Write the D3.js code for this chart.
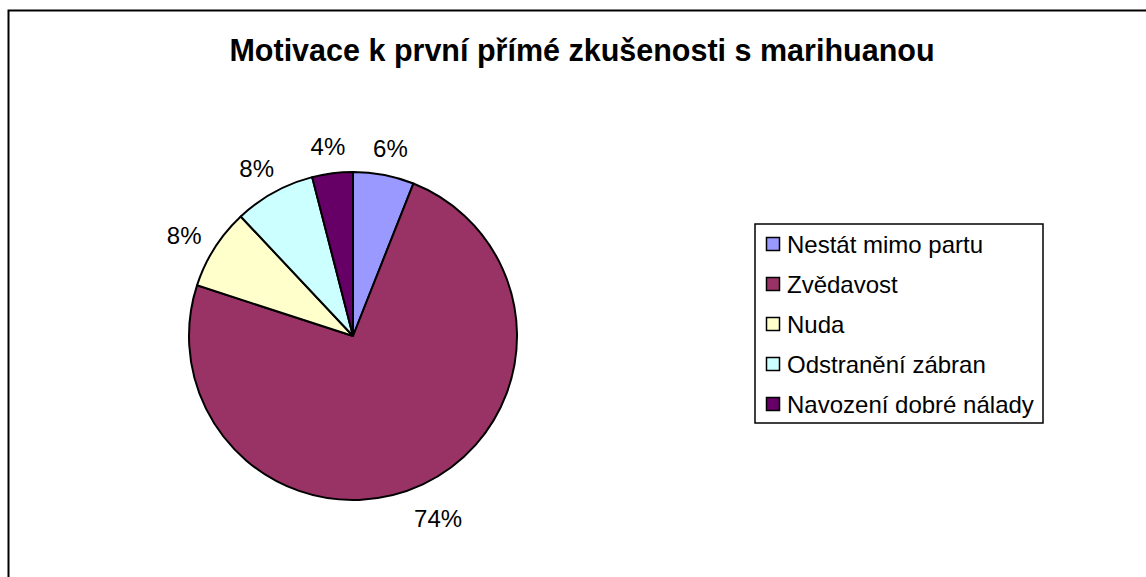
<!DOCTYPE html>
<html>
<head>
<meta charset="utf-8">
<script src="https://cdn.jsdelivr.net/npm/d3@7"></script>
<style>
  body { margin: 0; background: #fff; }
  svg { display: block; font-family: "Liberation Sans", Arial, sans-serif; }
</style>
</head>
<body>
<div id="chart"></div>
<script>
var title = "Motivace k první přímé zkušenosti s marihuanou";
var categories = ["Nestát mimo partu", "Zvědavost", "Nuda", "Odstranění zábran", "Navození dobré nálady"];
var values = [6, 74, 8, 8, 4];
var colors = ["#9999FF", "#993366", "#FFFFCC", "#CCFFFF", "#660066"];

var width = 1146, height = 577;

var svg = d3.select("#chart")
            .append("svg")
            .attr("width", width)
            .attr("height", height);

// chart frame (runs off the right and bottom edges)
svg.append("rect")
   .attr("x", 8.5)
   .attr("y", 10.5)
   .attr("width", width + 20)
   .attr("height", height + 20)
   .attr("fill", "none")
   .attr("stroke", "#000")
   .attr("stroke-width", 2);

svg.append("text")
   .attr("x", 582)
   .attr("y", 61)
   .attr("text-anchor", "middle")
   .attr("font-size", 30.5)
   .attr("font-weight", "bold")
   .text(title);

var cx = 353, cy = 336, radius = 164;

var pie = d3.pie().sort(null).value(function(d) { return d; });
var arcs = pie(values);

var arc = d3.arc().innerRadius(0).outerRadius(radius);
var labelArc = d3.arc().innerRadius(radius + 32).outerRadius(radius + 32);

var g = svg.append("g")
           .attr("transform", "translate(" + cx + "," + cy + ")");

g.selectAll("path")
 .data(arcs)
 .enter()
 .append("path")
     .attr("d", arc)
     .attr("fill", function(d, i) { return colors[i]; })
     .attr("stroke", "#000")
     .attr("stroke-width", 2)
     .attr("stroke-linejoin", "round");

g.selectAll("text")
 .data(arcs)
 .enter()
 .append("text")
     .attr("transform", function(d) {
         var c = labelArc.centroid(d);
         return "translate(" + (c[0] * 1.02) + "," + c[1] + ")";
     })
     .attr("text-anchor", "middle")
     .attr("dy", "0.55em")
     .attr("font-size", 24)
     .text(function(d) { return d.value + "%"; });

// legend
var legend = svg.append("g").attr("transform", "translate(755,224)");

legend.append("rect")
      .attr("width", 288)
      .attr("height", 199)
      .attr("fill", "#fff")
      .attr("stroke", "#000")
      .attr("stroke-width", 1.5);

var rowY = d3.scaleBand().domain(categories).range([4, 204]);

var item = legend.selectAll("g.item")
                 .data(categories)
                 .enter()
                 .append("g")
                     .attr("class", "item")
                     .attr("transform", function(d) { return "translate(0," + (rowY(d) + rowY.bandwidth() / 2 - 4) + ")"; });

item.append("rect")
    .attr("x", 11.5)
    .attr("y", -6.5)
    .attr("width", 13)
    .attr("height", 13)
    .attr("fill", function(d, i) { return colors[i]; })
    .attr("stroke", "#000")
    .attr("stroke-width", 1.5);

item.append("text")
    .attr("x", 32)
    .attr("dy", "0.36em")
    .attr("font-size", 24)
    .text(function(d) { return d; });
</script>
</body>
</html>
